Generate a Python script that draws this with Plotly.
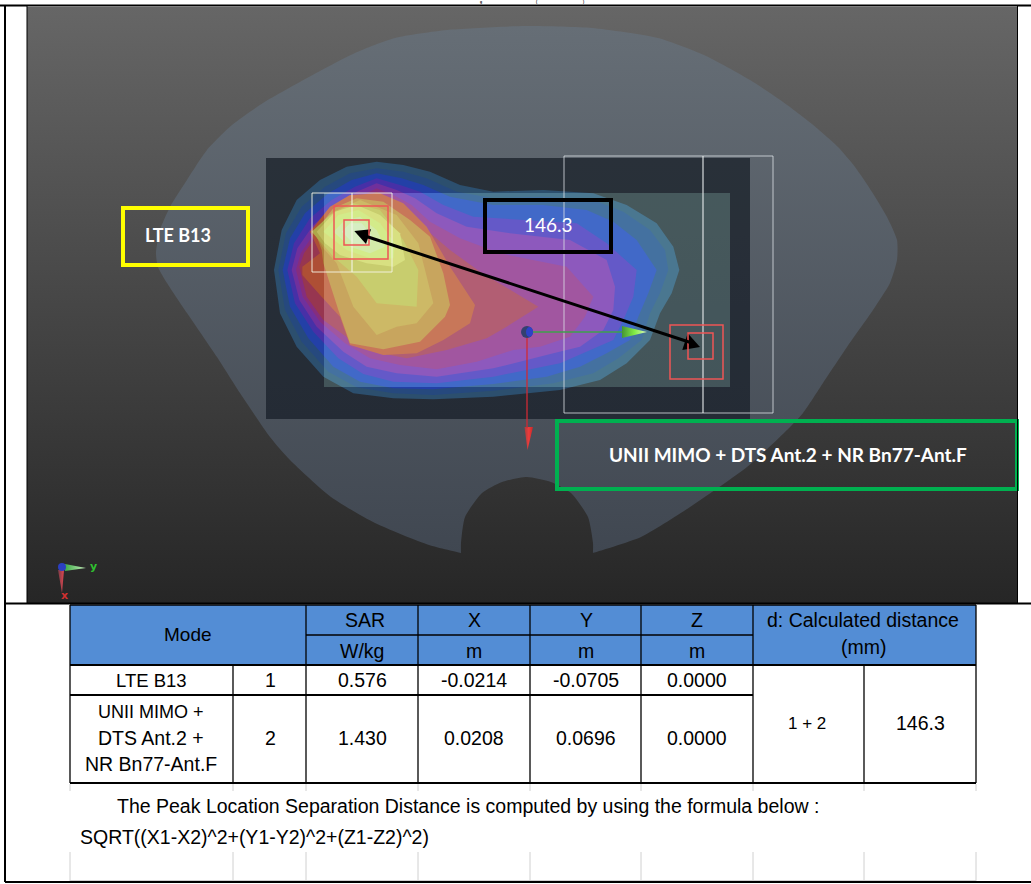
import plotly.graph_objects as go

W, H = 1031, 884

# ---- table content -------------------------------------------------
MODE_HEADER = "Mode"
COLUMN_HEADERS = ["SAR", "X", "Y", "Z"]
COLUMN_UNITS = ["W/kg", "m", "m", "m"]
DIST_HEADER = ["d: Calculated distance", "(mm)"]
ROW_MODES = [["LTE B13"], ["UNII MIMO +", "DTS Ant.2 +", "NR Bn77-Ant.F"]]
ROW_IDS = ["1", "2"]
SAR_VALUES = ["0.576", "1.430"]
X_VALUES = ["-0.0214", "0.0208"]
Y_VALUES = ["-0.0705", "0.0696"]
Z_VALUES = ["0.0000", "0.0000"]
PAIR = "1 + 2"
DISTANCE = "146.3"
NOTE_1 = "The Peak Location Separation Distance is computed by using the formula below :"
NOTE_2 = "SQRT((X1-X2)^2+(Y1-Y2)^2+(Z1-Z2)^2)"
TITLE_FRAGMENTS = [("g", 481), ("(", 537), (")", 583)]

# ---- phantom outline (image pixels) --------------------------------
PHANTOM = [(526,26),(592,28),(658,38),(704,55),(750,80),(783,102),(812,124),(838,147),(855,167),(872,192),(887,217),
           (897,240),(897,260),(890,283),(873,310),(847,347),(823,383),(803,413),(784,433),(747,467),(690,507),
           (641,537),(593,553),(593,553),(593,543),(588,517),(571,493),(551,482),(527,477),(502,482),(482,493),(465,517),
           (461,543),(461,553),(461,553),(429,545),(375,523),(331,497),(290,460),(270,437),(240,393),(217,357),(187,313),
           (167,283),(158,267),(156,253),(160,230),(170,207),(187,180),(207,150),(232,125),(263,103),(309,77),
           (355,53),(395,38),(447,30)]

# ---- SAR contour bands, outermost first (1/3 pixel units, origin 260,150)
BAND_COLORS = ["#2E5A80","#265296","#2246CC","#5231CC","#8931BE","#A52D96","#BC3858",
               "#DB5A35","#DB983C","#E1B446","#DBCF51","#F0EA6C","#E9F878","#E9F8A3","#EEFBC4"]
BANDS = [
 [(350,35),(430,45),(510,65),(600,105),(700,125),(850,120),(1000,130),(1100,165),(1190,220),(1240,290),(1258,360),(1235,430),(1200,490),(1170,570),(1100,640),(1020,690),(900,720),(700,740),(520,748),(400,745),(280,730),(190,680),(110,590),(60,490),(42,360),(65,240),(110,150),(180,90),(260,50)],
 [(350,55),(430,65),(500,85),(590,125),(700,145),(850,140),(1000,150),(1090,185),(1170,240),(1215,300),(1225,360),(1200,430),(1170,490),(1145,570),(1075,625),(1000,670),(880,700),(700,722),(520,735),(400,730),(290,712),(205,665),(125,575),(75,480),(55,360),(78,250),(125,170),(195,110),(270,70)],
 [(350,70),(425,85),(490,105),(570,140),(700,165),(850,165),(980,180),(1060,215),(1130,270),(1190,360),(1165,430),(1135,500),(1110,570),(1040,610),(960,650),(860,680),(700,702),(520,718),(400,715),(300,695),(220,650),(145,565),(90,470),(68,360),(90,265),(135,190),(205,130),(275,90)],
 [(350,85),(420,105),(480,125),(550,165),(640,200),(800,210),(950,220),(1040,280),(1130,360),(1120,440),(1090,510),(1060,570),(990,600),(900,640),(800,660),(700,680),(530,700),(400,695),(310,672),(235,625),(160,545),(105,460),(82,360),(102,280),(150,205),(215,150),(285,110)],
 [(350,100),(410,120),(465,145),(530,190),(620,230),(750,250),(930,270),(1040,330),(1065,410),(1060,480),(1030,540),(960,590),(880,610),(800,630),(700,655),(530,680),(410,670),(320,650),(250,605),(170,530),(118,450),(95,360),(112,295),(160,225),(225,170),(290,125)],
 [(350,115),(400,135),(455,165),(510,215),(600,265),(720,310),(920,350),(1000,440),(975,500),(930,560),(840,590),(760,600),(650,635),(530,658),(420,645),(330,625),(255,580),(180,515),(128,440),(108,360),(122,310),(170,240),(230,185),(300,140)],
 [(350,125),(395,150),(445,185),(500,240),(570,300),(660,365),(835,470),(740,530),(680,565),(560,600),(440,625),(340,605),(265,565),(190,510),(140,440),(118,350),(132,310),(175,250),(235,195),(300,150)],
 [(127,350),(180,310),(150,245),(210,170),(270,135),(360,130),(430,160),(500,230),(570,350),(645,465),(630,520),(550,570),(470,610),(370,615),(270,585),(240,500),(180,435),(127,375)],
 [(165,245),(220,175),(290,145),(370,155),(450,210),(510,260),(550,370),(570,465),(555,500),(480,575),(370,598),(270,580),(235,480),(190,340),(185,300)],
 [(160,245),(220,185),(300,150),(410,195),(475,280),(520,460),(470,520),(410,530),(350,555),(280,470),(230,340),(190,295)],
 [(155,245),(210,195),(280,160),(360,180),(430,270),(475,360),(470,470),(350,460),(290,380),(220,320)],
 [(170,245),(225,185),(290,165),(360,195),(420,250),(435,330),(400,350),(320,340),(240,315),(195,280)],
 [(190,245),(235,195),(295,180),(360,220),(405,280),(400,325),(330,325),(260,300)],
 [(220,245),(255,210),(300,200),(350,240),(375,290),(330,310),(270,290)],
 [(245,245),(270,220),(305,220),(335,255),(330,285),(280,280)],
]

fig = go.Figure()

def poly(points, color=None, gradient=None, smooth=False):
    xs = [p[0] for p in points] + [points[0][0]]
    ys = [p[1] for p in points] + [points[0][1]]
    kw = dict(fillgradient=gradient) if gradient else dict(fillcolor=color)
    ln = dict(width=0, shape="spline", smoothing=0.6) if smooth else dict(width=0)
    fig.add_trace(go.Scatter(x=xs, y=ys, mode="lines", fill="toself", line=ln,
                             hoverinfo="skip", showlegend=False, **kw))

def rect(x0, y0, x1, y1, **kw):
    poly([(x0,y0),(x1,y0),(x1,y1),(x0,y1)], **kw)

def vgrad(y0, y1, c0, c1):
    return dict(type="vertical", start=y0, stop=y1, colorscale=[[0, c0], [1, c1]])

def hgrad(x0, x1, stops):
    return dict(type="horizontal", start=x0, stop=x1, colorscale=stops)

# viewport and model
rect(27, 7, 1018, 603, gradient=vgrad(7, 603, "rgb(102,102,102)", "rgb(38,38,38)"))
poly(PHANTOM, gradient=vgrad(26, 553, "rgb(102,110,118)", "rgb(64,71,81)"), smooth=True)
rect(266, 158, 750, 419, gradient=vgrad(158, 419, "rgb(42,49,58)", "rgb(35,42,53)"))
for band, col in zip(BANDS, BAND_COLORS):
    poly([(260 + x / 3, 150 + y / 3) for x, y in band], color=col)
MASK = "rgba(39,46,55,0.25)"
rect(266, 158, 324, 419, color=MASK)
rect(730, 158, 750, 419, color=MASK)
rect(324, 158, 730, 193, color=MASK)
rect(324, 387, 730, 419, color=MASK)
rect(324, 193, 730, 387, color="rgba(150,200,190,0.27)")

# axis triad
poly([(622,326),(647,332),(622,338)], gradient=hgrad(622, 647, [[0,"rgb(70,150,50)"],[0.5,"rgb(130,235,70)"],[1,"rgb(225,250,190)"]]))
poly([(524.5,427),(533,427),(527.5,450)], gradient=hgrad(524.5, 533, [[0,"rgb(170,60,60)"],[0.5,"rgb(235,60,60)"],[1,"rgb(200,40,40)"]]))
poly([(65,564),(86,568),(65,571)], gradient=hgrad(65, 86, [[0,"rgb(60,170,70)"],[1,"rgb(200,240,190)"]]))
poly([(58,570),(64,570),(62,593)], gradient=hgrad(58, 64, [[0,"rgb(120,60,70)"],[1,"rgb(225,70,80)"]]))
# arrowheads
poly([(354.3,231),(371,229.3),(366,244)], color="#000000")
poly([(700,347),(687.7,333.3),(682.3,350)], color="#000000")

def line(x0, y0, x1, y1, color="#000000", width=1):
    fig.add_shape(type="line", x0=x0, y0=y0, x1=x1, y1=y1, line=dict(color=color, width=width), layer="above")

def box(x0, y0, x1, y1, color, width=1, fill=None):
    fig.add_shape(type="rect", x0=x0, y0=y0, x1=x1, y1=y1, line=dict(color=color, width=width),
                  fillcolor=fill, layer="above")

# probe grids
WHITE = "rgba(235,238,240,0.9)"
box(564, 156, 773, 413, "rgba(220,225,230,0.8)", 1); line(703, 156, 703, 413, WHITE, 1.2)
box(312, 193, 392, 272, "rgba(245,245,230,0.9)", 1); line(352, 193, 352, 272, "rgba(245,245,230,0.9)", 1.2)
RED = "#EE5555"
box(334, 206, 388, 259, RED, 1.5); box(344, 220, 369, 245, RED, 1.5)
box(670, 325, 723, 379, RED, 1.5); box(688, 333, 713, 359, RED, 1.5)
line(533, 332, 622, 332, "#3FA04C", 1.5)
line(527, 338, 527, 428, "#D02A35", 1.3)
line(362, 235, 692, 343, "#000000", 3)
fig.add_shape(type="circle", x0=521, y0=326, x1=533, y1=338, fillcolor="#34406F", line=dict(width=0), layer="above")
fig.add_shape(type="circle", x0=526, y0=327, x1=533, y1=337, fillcolor="#2E41C8", line=dict(width=0), layer="above")
fig.add_shape(type="circle", x0=58, y0=563, x1=66, y1=571, fillcolor="#2B3FC0", line=dict(width=0), layer="above")

# call-out boxes
box(123, 208, 248, 265, "#FFFF00", 4)
box(485, 200, 611, 252, "#000000", 4)
box(557, 421, 1017, 489, "#00B050", 4)

# page frame
line(0, 5.5, W, 5.5, "#000000", 2)
line(5, 5, 5, 882, "#000000", 2)
line(27, 6, 27, 603, "#000000", 1)
line(1017.5, 6, 1017.5, 603, "#000000", 1)
line(5, 603.5, W, 603.5, "#000000", 2)
line(5, 882, W, 882, "#000000", 2)

# table
COL_EDGES = [70, 233, 306, 418, 530, 641, 753, 864, 976]
box(70, 605, 306, 665, "#000000", 0, "#538DD5")
box(306, 605, 753, 665, "#000000", 0, "#538DD5")
box(753, 605, 976, 665, "#000000", 0, "#538DD5")
GRID = 1.6
line(70, 605, 976, 605, width=GRID)
line(306, 635, 753, 635, width=GRID)
line(70, 665, 976, 665, width=2)
line(70, 695, 753, 695, width=2)
line(70, 783, 976, 783, width=2)
for xe in [70, 306, 418, 530, 641, 753, 976]:
    line(xe, 605, xe, 783, width=1.3)
for xe in [233, 864]:
    line(xe, 665, xe, 783, width=1.3)
FAINT = "#D0D0D0"
for xe in COL_EDGES:
    line(xe, 784, xe, 791, FAINT, 1)
    line(xe, 852, xe, 881, FAINT, 1)
line(70, 880.5, 976, 880.5, FAINT, 1)

def text(x, y, s, size=19.5, color="#000000", family="Liberation Sans", bold=False, anchor="center", yanchor="middle"):
    s2 = f"<b>{s}</b>" if bold else s
    fig.add_annotation(x=x, y=y, text=s2, showarrow=False, xanchor=anchor, yanchor=yanchor,
                       font=dict(size=size, color=color, family=family), borderpad=0, borderwidth=0)

for s, tx in TITLE_FRAGMENTS:
    text(tx, 0, s, 3.5, bold=True, yanchor="top")

CALLOUT = "Lato"
text(178, 235, "LTE B13", 18, "#FFFFFF", CALLOUT, True)
text(548, 224, DISTANCE, 19, "#FFFFFF", CALLOUT)
text(788, 454, "UNII MIMO + DTS Ant.2 + NR Bn77-Ant.F", 19, "#FFFFFF", CALLOUT, True)
text(93, 566, "y", 11, "#30C030", "DejaVu Sans", True)
text(64, 595, "x", 11, "#D03030", "DejaVu Sans", True)

text(188, 634, MODE_HEADER, 19)
HDR_X = [362, 474, 586, 697]
for cx, head, unit in zip(HDR_X, COLUMN_HEADERS, COLUMN_UNITS):
    text(cx + (3 if head == "SAR" else 0), 620, head)
    text(cx, 651, unit)
text(863, 620, DIST_HEADER[0]); text(863, 647, DIST_HEADER[1])
ROW_Y = [680, 738]
text(151, ROW_Y[0], ROW_MODES[0][0], 18.5)
for yy, s, fs in zip([712, 738, 764], ROW_MODES[1], [18, 19.5, 19.5]):
    text(151, yy, s, fs)
for i, yy in enumerate(ROW_Y):
    text(270, yy, ROW_IDS[i])
    for cx, col in zip(HDR_X, [SAR_VALUES, X_VALUES, Y_VALUES, Z_VALUES]):
        text(cx, yy, col[i])
text(807, 723, PAIR, 17)
text(920, 723, DISTANCE)
text(116.5, 806, NOTE_1, anchor="left")
text(80, 837, NOTE_2, anchor="left")

fig.update_layout(width=W, height=H, margin=dict(l=0, r=0, t=0, b=0), autosize=False,
                  paper_bgcolor="#FFFFFF", plot_bgcolor="#FFFFFF", showlegend=False,
                  xaxis=dict(range=[0, W], visible=False, fixedrange=True),
                  yaxis=dict(range=[H, 0], visible=False, fixedrange=True))
fig.write_html("out.html", config=dict(displayModeBar=False),
               post_script="document.body.style.margin='0';document.body.style.overflow='hidden';")
